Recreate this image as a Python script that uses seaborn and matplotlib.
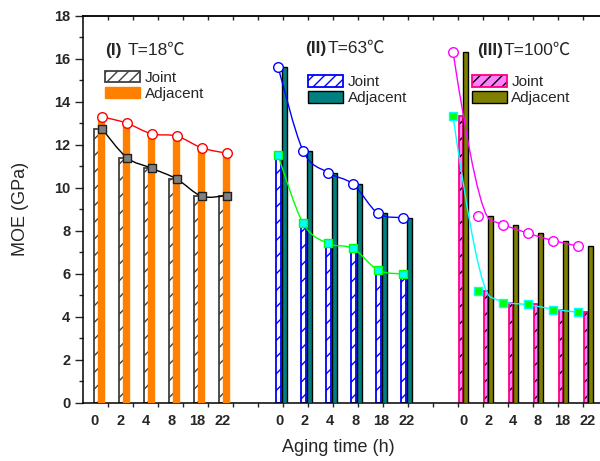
import numpy as np
import matplotlib
matplotlib.use('Agg')
import matplotlib.pyplot as plt
import seaborn as sns
from matplotlib.patches import Patch, PathPatch
from matplotlib.path import Path
from matplotlib.legend import Legend

# data (MOE, GPa)
hours = ['0', '2', '4', '8', '18', '22']
joint_18 = [12.75, 11.4, 10.9, 10.4, 9.6, 9.63]
adj_18 = [13.3, 13.0, 12.5, 12.4, 11.85, 11.6]
joint_63 = [11.5, 8.35, 7.4, 7.17, 6.16, 5.98]
adj_63 = [15.62, 11.72, 10.7, 10.16, 8.8, 8.6]
joint_100 = [13.33, 5.2, 4.62, 4.58, 4.32, 4.2]
adj_100 = [16.32, 8.7, 8.27, 7.87, 7.52, 7.28]

sns.set_style('ticks')
plt.rcParams['font.family'] = ['Liberation Sans', 'Noto Sans CJK SC', 'DejaVu Sans']
plt.rcParams['hatch.linewidth'] = 1.0


def through_path(xs, ys):
    # smooth curve through the points (catmull-rom as bezier)
    p = np.column_stack([xs, ys])
    n = len(p)
    verts, codes = [p[0]], [Path.MOVETO]
    for i in range(n - 1):
        p0, p1, p2, p3 = p[max(i - 1, 0)], p[i], p[i + 1], p[min(i + 2, n - 1)]
        verts += [p1 + (p2 - p0) / 6, p2 - (p3 - p1) / 6, p2]
        codes += [Path.CURVE4] * 3
    return Path(verts, codes)


def bspline_path(xs, ys):
    # B-spline style: points act as control points
    p = np.column_stack([xs, ys])
    n = len(p)
    verts, codes = [p[0]], [Path.MOVETO]
    for i in range(1, n - 1):
        end = p[i + 1] if i == n - 2 else (p[i] + p[i + 1]) / 2
        verts += [p[i], end]
        codes += [Path.CURVE3, Path.CURVE3]
    return Path(verts, codes)


fig = plt.figure(figsize=(6, 4.61), dpi=100)
ax = fig.add_axes([83 / 600, (461 - 402.5) / 461, 517 / 600, (402.5 - 15.7) / 461])

idx = np.arange(len(hours))
groups = [
    dict(joint=joint_18, adj=adj_18, base=0.75, joff=-0.2, aoff=-0.03, jw=0.22, aw=0.23,
         jface='white', jedge='#404040', jhatch='#404040', aface='#FF8000', aedge='#FF8000',
         sq_face='#808080', sq_edge='#202020', sq_line='black', ci_edge='#FF0000',
         path=through_path, lab_base=0.47, lab_step=1.02),
    dict(joint=joint_63, adj=adj_63, base=7.8, joff=0.02, aoff=0.24, jw=0.22, aw=0.2,
         jface='white', jedge='#0000FF', jhatch='#0000FF', aface='#008080', aedge='black',
         sq_face='#00FFFF', sq_edge='#00FF00', sq_line='#00FF00', ci_edge='#0000FF',
         path=through_path, lab_base=7.85, lab_step=1.02),
    dict(joint=joint_100, adj=adj_100, base=14.8, joff=0.32, aoff=0.5, jw=0.17, aw=0.2,
         jface='#FF80FF', jedge='#FF0080', jhatch='black', aface='#808000', aedge='black',
         sq_face='#00FF00', sq_edge='#00FFFF', sq_line='#00FFFF', ci_edge='#FF00FF',
         path=bspline_path, lab_base=15.22, lab_step=0.99),
]

label_pos, label_txt = [], []
for g in groups:
    xm = g['base'] + idx
    # joint bars: hatch layer then outline layer
    ax.bar(xm + g['joff'], g['joint'], width=g['jw'], color=g['jface'], edgecolor=g['jhatch'],
           hatch='//', linewidth=0, zorder=2)
    ax.bar(xm + g['joff'], g['joint'], width=g['jw'], fill=False, edgecolor=g['jedge'],
           linewidth=1.3, zorder=2)
    ax.bar(xm + g['aoff'], g['adj'], width=g['aw'], color=g['aface'], edgecolor=g['aedge'],
           linewidth=1.0, zorder=3)
    # fitted curves
    ax.add_patch(PathPatch(g['path'](xm, g['adj']), fill=False, edgecolor=g['ci_edge'],
                           linewidth=1.0, zorder=4))
    ax.add_patch(PathPatch(g['path'](xm, g['joint']), fill=False, edgecolor=g['sq_line'],
                           linewidth=1.0, zorder=4))
    sns.scatterplot(x=xm, y=g['adj'], marker='o', s=48, facecolor='white',
                    edgecolor=g['ci_edge'], linewidth=1.0, zorder=5, ax=ax)
    sns.scatterplot(x=xm, y=g['joint'], marker='s', s=38, facecolor=g['sq_face'],
                    edgecolor=g['sq_edge'], linewidth=1.0, zorder=5, ax=ax)
    label_pos += list(g['lab_base'] + idx * g['lab_step'])
    label_txt += hours

ax.set_xlim(0, 517 / 25)
ax.set_ylim(0, 18)
ax.set_xticks(label_pos)
ax.set_xticklabels(label_txt, fontsize=10.5, fontweight='bold')
ax.set_xticks(np.arange(1, 21), minor=True)
ax.tick_params(axis='x', which='major', length=0, pad=8)
ax.tick_params(axis='x', which='minor', length=3, width=1, direction='out')
ax.set_yticks(np.arange(0, 19, 2))
ax.set_yticks(np.arange(1, 18, 2), minor=True)
ax.tick_params(axis='y', which='major', length=6, width=1, pad=3, labelsize=10.5)
ax.tick_params(axis='y', which='minor', length=3, width=1)
for t in ax.get_yticklabels():
    t.set_fontweight('bold')

top = ax.secondary_xaxis('top')
top.set_xticks(np.arange(1, 21))
top.set_xticklabels([])
top.tick_params(direction='in', length=3, width=1)
top.spines['top'].set_linewidth(1.1)

for s in ['left', 'bottom', 'top']:
    ax.spines[s].set_linewidth(1.1)
    ax.spines[s].set_color('black')
ax.spines['right'].set_visible(False)

ax.set_ylabel('MOE (GPa)', fontsize=13)
ax.yaxis.set_label_coords(-0.105, 0.5)
ax.set_xlabel('Aging time (h)', fontsize=13)
ax.xaxis.set_label_coords(0.493, -0.095)

# group titles: bold roman numeral, then the temperature right after it
titles = [('(I)', 0.88, 'T=18℃', 4.5, 16.38), ('(II)', 8.88, 'T=63℃', 0.8, 16.47),
          ('(III)', 15.75, 'T=100℃', 0.8, 16.4)]
for b, xb, t, gap, yt in titles:
    tb = ax.text(xb, yt, b, fontsize=12.5, fontweight='bold', va='center', zorder=6)
    ax.annotate(t, xy=(1, 0.5), xycoords=tb, xytext=(gap, 0), textcoords='offset points',
                fontsize=12.5, va='center', ha='left', zorder=6)

# legends
leg_specs = [
    (groups[0], (22 / 517, 0.858)),
    (groups[1], (225.3 / 517, 0.847)),
    (groups[2], (388.7 / 517, 0.847)),
]
for g, anchor in leg_specs:
    jh = (Patch(facecolor=g['jface'], edgecolor=g['jhatch'], hatch='///', linewidth=0),
          Patch(fill=False, edgecolor=g['jedge'], linewidth=1.3))
    ah = Patch(facecolor=g['aface'], edgecolor=g['aedge'], linewidth=1.0)
    leg = Legend(ax, [jh, ah], ['Joint', 'Adjacent'], loc='upper left', bbox_to_anchor=anchor,
                 frameon=False, borderpad=0, borderaxespad=0, fontsize=11,
                 handlelength=2.3, handleheight=0.8, handletextpad=0.3, labelspacing=0.12)
    ax.add_artist(leg)

fig.savefig('out.png', dpi=100)
